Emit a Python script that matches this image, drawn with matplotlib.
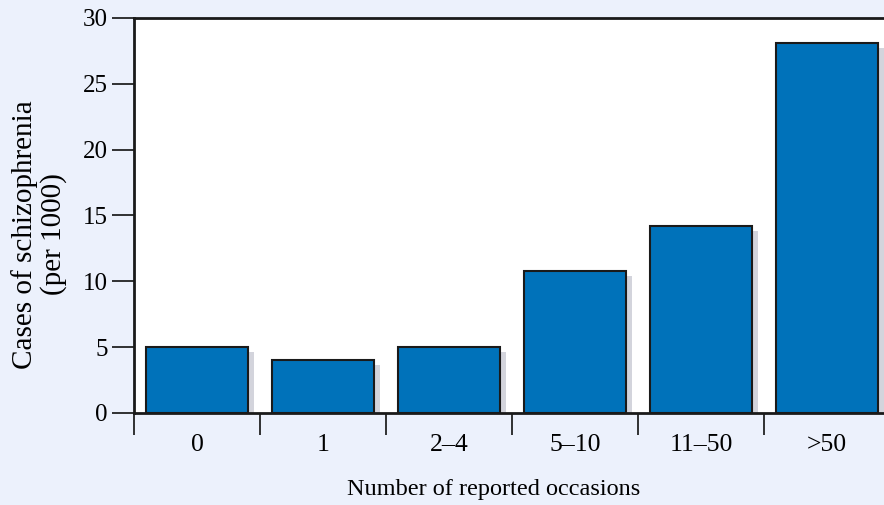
import matplotlib.pyplot as plt
import matplotlib.transforms as mtransforms
import numpy as np

# data
categories = ['0', '1', '2–4', '5–10', '11–50', '>50']
cases = [5.0, 4.0, 5.0, 10.8, 14.2, 28.1]

plt.rcParams['font.family'] = ['Liberation Serif', 'DejaVu Serif']

bg = '#ECF1FC'
bar_color = '#0072BA'
shadow_color = '#D3D4DC'

fig = plt.figure(figsize=(8.84, 5.05), dpi=100, facecolor=bg)
ax = fig.add_axes([0.1516, 0.1822, 0.855, 0.7822])
ax.set_facecolor('white')

x = np.arange(len(categories))

# grey drop shadow, shifted a few pixels right and down
shift = mtransforms.ScaledTranslation(6 / 100, -5 / 100, fig.dpi_scale_trans)
ax.bar(x, cases, width=0.81, color=shadow_color, linewidth=0,
       transform=ax.transData + shift, zorder=1)
ax.bar(x, cases, width=0.81, color=bar_color, edgecolor='#1a1a1a',
       linewidth=1.5, zorder=2)

ax.set_xlim(-0.5, 5.5)
ax.set_ylim(0, 30)
ax.set_yticks(range(0, 31, 5))

# ticks at category boundaries, labels at the centres
ax.set_xticks(np.arange(-0.5, 6, 1))
ax.set_xticklabels([])
ax.set_xticks(x, minor=True)
ax.set_xticklabels(categories, minor=True)
ax.tick_params(axis='x', which='major', length=16, width=1.3, color='#222222')
ax.tick_params(axis='x', which='minor', length=0, pad=15, labelsize=18.5)
ax.tick_params(axis='y', length=16, width=1.3, color='#222222', pad=3, labelsize=18)

for side in ['left', 'top', 'bottom', 'right']:
    ax.spines[side].set_linewidth(2)
    ax.spines[side].set_color('#1a1a1a')
    ax.spines[side].set_zorder(3)

ax.set_ylabel('Cases of schizophrenia\n(per 1000)', fontsize=21, linespacing=1.1)
ax.yaxis.set_label_coords(-0.089, 0.452)
ax.set_xlabel('Number of reported occasions', fontsize=17.5)
ax.xaxis.set_label_coords(0.476, -0.168)

plt.savefig('out.png', dpi=100, facecolor=bg)
